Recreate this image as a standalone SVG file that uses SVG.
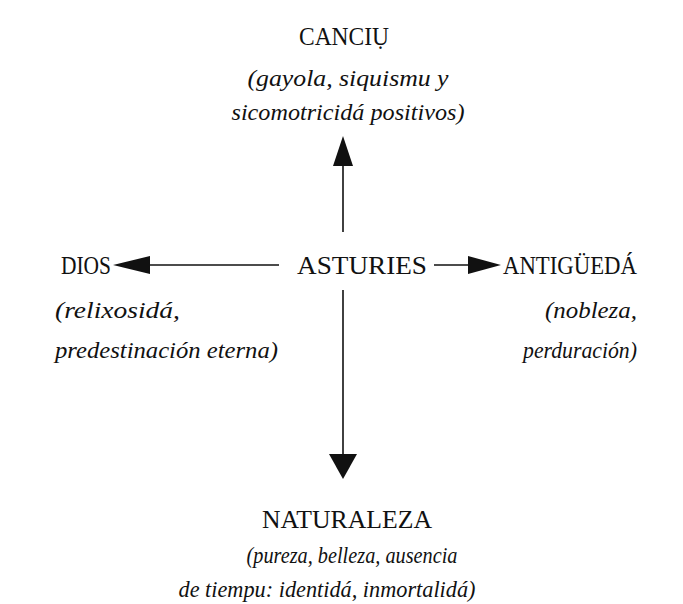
<svg xmlns="http://www.w3.org/2000/svg" width="683" height="604" viewBox="0 0 683 604">
<style>
.cap{font-family:"Liberation Serif","DejaVu Serif",serif;font-size:25px;fill:#111;}
.it{font-family:"Liberation Serif","DejaVu Serif",serif;font-size:24px;font-style:italic;fill:#111;}
.ln{stroke:#111;stroke-width:1.6;fill:none;}
.head{fill:#111;stroke:none;}
</style>
<rect width="683" height="604" fill="#fff"/>
<g id="connectors">
<line class="ln" x1="343" y1="165" x2="343" y2="232"/>
<polygon class="head" points="343,136 353,166 333,166"/>
<line class="ln" x1="343" y1="290" x2="343" y2="456"/>
<polygon class="head" points="329,454 357,454 343,479"/>
<line class="ln" x1="146" y1="265" x2="279" y2="265"/>
<polygon class="head" points="113,265 150,256 150,274"/>
<line class="ln" x1="434" y1="265" x2="474" y2="265"/>
<polygon class="head" points="501,265 468,256 468,274"/>
</g>
<g id="node-canciu">
<text class="cap" x="344" y="45" text-anchor="middle" textLength="90" lengthAdjust="spacingAndGlyphs">CANCIỤ</text>
<text class="it" x="348" y="86" text-anchor="middle" textLength="201" lengthAdjust="spacingAndGlyphs">(gayola, siquismu  y</text>
<text class="it" x="348" y="120" text-anchor="middle" textLength="233" lengthAdjust="spacingAndGlyphs">sicomotricidá  positivos)</text>
</g>
<g id="node-asturies">
<text class="cap" x="297" y="274" textLength="130" lengthAdjust="spacingAndGlyphs">ASTURIES</text>
</g>
<g id="node-dios">
<text class="cap" x="61" y="274" textLength="50" lengthAdjust="spacingAndGlyphs">DIOS</text>
<text class="it" x="55" y="318" textLength="125" lengthAdjust="spacingAndGlyphs">(relixosidá,</text>
<text class="it" x="55" y="358" textLength="223" lengthAdjust="spacingAndGlyphs">predestinación   eterna)</text>
</g>
<g id="node-antiguedad">
<text class="cap" x="503" y="274" textLength="134" lengthAdjust="spacingAndGlyphs">ANTIGÜEDÁ</text>
<text class="it" x="637" y="318" text-anchor="end" textLength="92" lengthAdjust="spacingAndGlyphs">(nobleza,</text>
<text class="it" x="637" y="358" text-anchor="end" textLength="114" lengthAdjust="spacingAndGlyphs">perduración)</text>
</g>
<g id="node-naturaleza">
<text class="cap" x="347" y="528" text-anchor="middle" textLength="170" lengthAdjust="spacingAndGlyphs">NATURALEZA</text>
<text class="it" x="352" y="563" text-anchor="middle" textLength="211" lengthAdjust="spacingAndGlyphs">(pureza, belleza, ausencia</text>
<text class="it" x="327" y="597" text-anchor="middle" textLength="297" lengthAdjust="spacingAndGlyphs">de tiempu: identidá, inmortalidá)</text>
</g>
</svg>
